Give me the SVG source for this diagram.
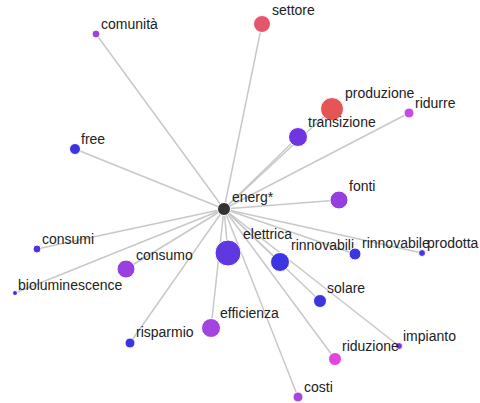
<svg xmlns="http://www.w3.org/2000/svg" width="480" height="403" viewBox="0 0 480 403">
<style>
.l{stroke:#c8c8c8;stroke-width:1.5;fill:none}
text{font-family:"Liberation Sans",Arial,sans-serif;font-size:14px;fill:#222}
circle{stroke:#fff;stroke-width:1}
</style>
<rect width="480" height="403" fill="#fff"/>
<g id="connectors">
<line class="l" x1="224" y1="209" x2="262" y2="24"/>
<line class="l" x1="224" y1="209" x2="96" y2="34"/>
<line class="l" x1="224" y1="209" x2="75" y2="149"/>
<line class="l" x1="224" y1="209" x2="332" y2="109"/>
<line class="l" x1="224" y1="209" x2="409" y2="113"/>
<line class="l" x1="224" y1="209" x2="298" y2="137"/>
<line class="l" x1="224" y1="209" x2="339" y2="200"/>
<line class="l" x1="224" y1="209" x2="37" y2="249"/>
<line class="l" x1="224" y1="209" x2="126" y2="269"/>
<line class="l" x1="224" y1="209" x2="15" y2="293"/>
<line class="l" x1="224" y1="209" x2="130" y2="343"/>
<line class="l" x1="224" y1="209" x2="211" y2="328"/>
<line class="l" x1="224" y1="209" x2="228" y2="253"/>
<line class="l" x1="224" y1="209" x2="280" y2="262"/>
<line class="l" x1="224" y1="209" x2="355" y2="254"/>
<line class="l" x1="224" y1="209" x2="422" y2="253"/>
<line class="l" x1="224" y1="209" x2="320" y2="301"/>
<line class="l" x1="224" y1="209" x2="399" y2="346"/>
<line class="l" x1="224" y1="209" x2="335" y2="359"/>
<line class="l" x1="224" y1="209" x2="298" y2="397"/>
</g>
<g id="settore"><circle cx="262" cy="24" r="8.5" fill="#e5566b"/><text x="272" y="15">settore</text></g>
<g id="comunita"><circle cx="96" cy="34" r="4" fill="#a044e0"/><text x="101" y="29">comunità</text></g>
<g id="free"><circle cx="75" cy="149" r="5.5" fill="#3a35e0"/><text x="81" y="144">free</text></g>
<g id="produzione"><circle cx="332" cy="109" r="11.5" fill="#e55555"/><text x="345" y="98">produzione</text></g>
<g id="ridurre"><circle cx="409" cy="113" r="5" fill="#c84ae0"/><text x="415" y="108">ridurre</text></g>
<g id="transizione"><circle cx="298" cy="137" r="9.5" fill="#6f35e0"/><text x="308" y="127">transizione</text></g>
<g id="fonti"><circle cx="339" cy="200" r="9" fill="#9440e0"/><text x="349" y="191">fonti</text></g>
<g id="consumi"><circle cx="37" cy="249" r="4" fill="#4a35e0"/><text x="42" y="244">consumi</text></g>
<g id="consumo"><circle cx="126" cy="269" r="9" fill="#9a40e0"/><text x="136" y="260">consumo</text></g>
<g id="bioluminescence"><circle cx="15" cy="293" r="2.5" fill="#3a35e0"/><text x="18" y="290">bioluminescence</text></g>
<g id="risparmio"><circle cx="130" cy="343" r="5" fill="#3a35e0"/><text x="136" y="337">risparmio</text></g>
<g id="efficienza"><circle cx="211" cy="328" r="9.5" fill="#a444e0"/><text x="220" y="318">efficienza</text></g>
<g id="elettrica"><circle cx="228" cy="253" r="13" fill="#6038e0"/><text x="243" y="239">elettrica</text></g>
<g id="rinnovabili"><circle cx="280" cy="262" r="9.5" fill="#3c35e0"/><text x="291" y="250">rinnovabili</text></g>
<g id="rinnovabile"><circle cx="355" cy="254" r="6" fill="#3c35e0"/><text x="362" y="248">rinnovabile</text></g>
<g id="prodotta"><circle cx="422" cy="253" r="3.5" fill="#4a35e0"/><text x="427" y="248">prodotta</text></g>
<g id="solare"><circle cx="320" cy="301" r="6.5" fill="#3c35e0"/><text x="327" y="293">solare</text></g>
<g id="impianto"><circle cx="399" cy="346" r="3.5" fill="#7a35e0"/><text x="403" y="341">impianto</text></g>
<g id="riduzione"><circle cx="335" cy="359" r="6.5" fill="#e045e0"/><text x="342" y="351">riduzione</text></g>
<g id="costi"><circle cx="298" cy="397" r="5" fill="#a844e0"/><text x="304" y="392">costi</text></g>
<g id="energ"><circle cx="224" cy="209" r="6.5" fill="#333"/><text x="232" y="202">energ*</text></g>
</svg>
